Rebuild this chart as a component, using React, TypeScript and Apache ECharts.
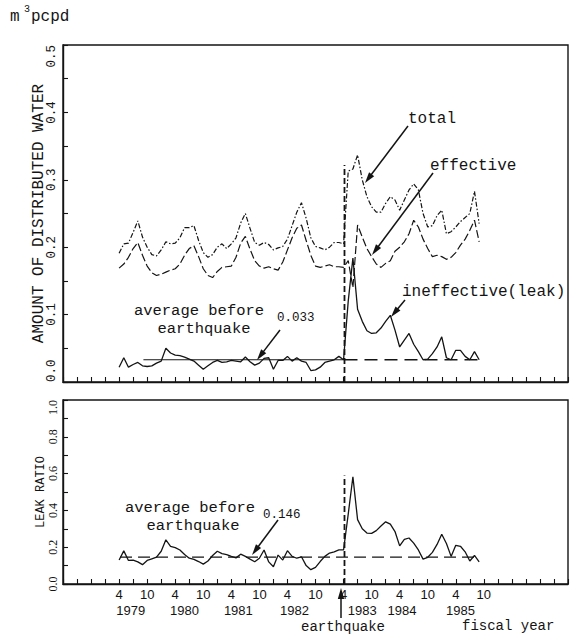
import React, { useEffect, useRef } from "react";
import * as echarts from "echarts";

// x axis unit: months counted from April 1978 (axis origin); data start April 1979
const START_MONTH = 12;

// monthly values, April 1979 .. September 1985 (m3 pcpd)
const total = [
  0.191, 0.205, 0.206, 0.222, 0.239, 0.215, 0.2, 0.189, 0.187, 0.196,
  0.208, 0.205, 0.206, 0.214, 0.229, 0.229, 0.232, 0.21, 0.192, 0.185,
  0.189, 0.2, 0.205, 0.198, 0.205, 0.214, 0.236, 0.25, 0.228, 0.207,
  0.203, 0.207, 0.204, 0.196, 0.199, 0.201, 0.212, 0.232, 0.252, 0.266,
  0.243, 0.214, 0.201, 0.199, 0.196, 0.2, 0.207, 0.207, 0.205, 0.313,
  0.316, 0.337, 0.3, 0.275, 0.26, 0.252, 0.252, 0.265, 0.275, 0.27,
  0.255, 0.27, 0.285, 0.294, 0.285, 0.25, 0.23, 0.232, 0.247, 0.255,
  0.22, 0.223, 0.23, 0.238, 0.244, 0.25, 0.283, 0.235,
];
const effective = [
  0.169, 0.175, 0.185, 0.198, 0.207, 0.188, 0.172, 0.162, 0.158, 0.16,
  0.163, 0.166, 0.168, 0.175, 0.188, 0.198, 0.202, 0.186, 0.168, 0.158,
  0.155, 0.164, 0.17, 0.171, 0.172, 0.185, 0.206, 0.216, 0.197, 0.18,
  0.172, 0.169, 0.171, 0.168, 0.166, 0.178, 0.196, 0.214, 0.228, 0.233,
  0.21, 0.188, 0.172, 0.17, 0.172, 0.174, 0.171, 0.171, 0.17, 0.18,
  0.14, 0.233, 0.215, 0.198, 0.186, 0.175, 0.17, 0.176, 0.18, 0.194,
  0.2, 0.208, 0.22, 0.24, 0.23, 0.212, 0.198, 0.186, 0.188, 0.186,
  0.182, 0.185, 0.192, 0.203, 0.212, 0.225, 0.24, 0.208,
];
const leak = [
  0.022, 0.036, 0.022, 0.026, 0.029, 0.024, 0.023, 0.024, 0.028, 0.031,
  0.05, 0.043, 0.04, 0.039, 0.037, 0.034, 0.031, 0.025, 0.019, 0.024,
  0.029, 0.032, 0.029, 0.03, 0.032, 0.031, 0.03, 0.037, 0.03, 0.025,
  0.028, 0.035, 0.036, 0.019, 0.032, 0.032, 0.038, 0.031, 0.036, 0.031,
  0.029, 0.017, 0.018, 0.022, 0.029, 0.031, 0.033, 0.038, 0.033, 0.12,
  0.184, 0.108, 0.09, 0.076, 0.072, 0.073, 0.08, 0.09, 0.099, 0.077,
  0.052, 0.062, 0.072, 0.056, 0.045, 0.033, 0.034, 0.042, 0.052, 0.067,
  0.036, 0.033, 0.047, 0.047, 0.038, 0.033, 0.045, 0.033,
];
const leakRatio = [
  0.13, 0.18, 0.128, 0.13, 0.12, 0.105, 0.128, 0.137, 0.146, 0.178,
  0.24, 0.205, 0.198, 0.185, 0.16, 0.14, 0.134, 0.122, 0.108, 0.125,
  0.155, 0.178, 0.165, 0.16, 0.15, 0.142, 0.162, 0.15, 0.135, 0.121,
  0.14, 0.185, 0.12, 0.094, 0.157, 0.13, 0.181, 0.15, 0.14, 0.148,
  0.1, 0.078, 0.09, 0.122, 0.15, 0.168, 0.175, 0.185, 0.185, 0.38,
  0.583, 0.35, 0.3, 0.277, 0.275, 0.29, 0.315, 0.338, 0.325, 0.285,
  0.207, 0.242, 0.25, 0.222, 0.185, 0.135, 0.145, 0.172, 0.215, 0.27,
  0.22, 0.15, 0.21, 0.205, 0.175, 0.125, 0.155, 0.12,
];

const AVG_LEAK = 0.033;
const AVG_RATIO = 0.146;
const QUAKE_X = 60.2; // late May 1983
const QUAKE_TOP_AMOUNT = 0.322;
const QUAKE_TOP_RATIO = 0.59;
const AVG_LEAK_START = 17.2;
const AVG_RATIO_START = 12.2;
const AVG_END = 88.8;

const yearLabels = ["1979", "1980", "1981", "1982", "1983", "1984", "1985"];
const yearLabelPos = [14.5, 26, 37.5, 49.5, 64, 72.5, 85];

const INK = "#141414";
const MONO = '"Liberation Mono", "DejaVu Sans Mono", monospace';
const SANS = '"Liberation Sans", Arial, sans-serif';
const SERIF = '"Liberation Serif", "DejaVu Serif", serif';

function monthLabel(v: number): string {
  if (v < 12 || v > 90) return "";
  if (v % 12 === 0) return "4";
  if (v % 12 === 6) return "10";
  return "";
}

function arrow(x1: number, y1: number, x2: number, y2: number) {
  const dx = x2 - x1, dy = y2 - y1;
  const len = Math.hypot(dx, dy);
  const ux = dx / len, uy = dy / len;
  const L = 11, W = 3.2;
  const bx = x2 - ux * L, by = y2 - uy * L;
  return [
    { type: "line", shape: { x1, y1, x2: bx + ux * 2, y2: by + uy * 2 }, style: { stroke: INK, lineWidth: 1.5 } },
    {
      type: "polygon",
      shape: { points: [[x2, y2], [bx - uy * W, by + ux * W], [bx + uy * W, by - ux * W]] },
      style: { fill: INK },
    },
  ];
}

function txt(x: number, y: number, text: string, fontSize: number, align = "left", font = MONO) {
  return {
    type: "text",
    x,
    y,
    style: { text, fontSize, fontFamily: font, fill: INK, align, verticalAlign: "middle" },
  };
}

const pairs = (arr: number[]) => arr.map((v, i) => [START_MONTH + i, v]);

export default function App() {
  const ref = useRef<HTMLDivElement>(null);
  useEffect(() => {
    if (!ref.current) return;
    const chart = echarts.init(ref.current, null, { renderer: "svg" });
    const axisLine = { show: true, lineStyle: { color: INK, width: 1.4 } };
    const xCommon = {
      type: "value",
      min: 0,
      max: 108,
      interval: 3,
      axisLine,
      axisTick: { show: true, inside: true, length: 5, lineStyle: { color: INK, width: 1.1 } },
      splitLine: { show: false },
    };
    const lineBase = { type: "line", symbol: "none", showSymbol: false, silent: true };
    chart.setOption({
      animation: false,
      backgroundColor: "#ffffff",
      grid: [
        { left: 63, right: 6, top: 45, height: 337, show: true, borderColor: INK, borderWidth: 1.4, backgroundColor: "transparent" },
        { left: 63, right: 6, top: 400, height: 184, show: true, borderColor: INK, borderWidth: 1.4, backgroundColor: "transparent" },
      ],
      xAxis: [
        { ...xCommon, gridIndex: 0, axisLabel: { show: false } },
        {
          ...xCommon,
          gridIndex: 1,
          axisLabel: { show: true, margin: 4, color: INK, fontSize: 13, fontFamily: SANS, formatter: (v: number) => monthLabel(v) },
        },
        {
          type: "value",
          gridIndex: 1,
          position: "bottom",
          offset: 16,
          min: 0,
          max: 108,
          axisLine: { show: false },
          axisTick: { show: false },
          splitLine: { show: false },
          axisLabel: {
            show: true,
            margin: 4,
            color: INK,
            fontSize: 13,
            fontFamily: SANS,
            customValues: yearLabelPos,
            formatter: (v: number) => {
              const i = yearLabelPos.indexOf(v);
              return i >= 0 ? yearLabels[i] : "";
            },
          },
        },
      ],
      yAxis: [
        {
          type: "value",
          gridIndex: 0,
          min: 0,
          max: 0.5,
          interval: 0.05,
          axisLine,
          axisTick: { show: true, inside: true, length: 5, lineStyle: { color: INK, width: 1.1 } },
          splitLine: { show: false },
          axisLabel: {
            rotate: 90,
            margin: 5,
            color: INK,
            fontSize: 12.5,
            fontFamily: MONO,
            alignMinLabel: "left",
            alignMaxLabel: "right",
            formatter: (v: number) => (Math.abs(v * 10 - Math.round(v * 10)) < 1e-6 ? v.toFixed(1) : ""),
          },
          name: "AMOUNT OF DISTRIBUTED WATER",
          nameLocation: "middle",
          nameRotate: 90,
          nameGap: 16,
          nameMoveOverlap: false,
          nameTextStyle: { color: INK, fontSize: 16, fontFamily: MONO },
        },
        {
          type: "value",
          gridIndex: 1,
          min: 0,
          max: 1,
          interval: 0.1,
          axisLine,
          axisTick: { show: true, inside: true, length: 5, lineStyle: { color: INK, width: 1.1 } },
          splitLine: { show: false },
          axisLabel: {
            rotate: 90,
            margin: 4,
            color: INK,
            fontSize: 12,
            fontFamily: SERIF,
            alignMaxLabel: "right",
            formatter: (v: number) => (Math.abs(v * 5 - Math.round(v * 5)) < 1e-6 ? v.toFixed(1) : ""),
          },
          name: "LEAK RATIO",
          nameLocation: "middle",
          nameRotate: 90,
          nameGap: 16,
          nameMoveOverlap: false,
          nameTextStyle: { color: INK, fontSize: 12, fontFamily: MONO },
        },
      ],
      series: [
        { ...lineBase, name: "total", xAxisIndex: 0, yAxisIndex: 0, data: pairs(total), lineStyle: { color: INK, width: 1.2, type: [5, 2, 1.5, 2] } },
        { ...lineBase, name: "effective", xAxisIndex: 0, yAxisIndex: 0, data: pairs(effective), lineStyle: { color: INK, width: 1.2, type: [8, 3] } },
        { ...lineBase, name: "ineffective(leak)", xAxisIndex: 0, yAxisIndex: 0, data: pairs(leak), lineStyle: { color: INK, width: 1.3, type: "solid" } },
        { ...lineBase, name: "avg leak before", xAxisIndex: 0, yAxisIndex: 0, data: [[AVG_LEAK_START, AVG_LEAK], [QUAKE_X, AVG_LEAK]], lineStyle: { color: INK, width: 1.1, type: "solid" } },
        { ...lineBase, name: "avg leak after", xAxisIndex: 0, yAxisIndex: 0, data: [[QUAKE_X, AVG_LEAK], [AVG_END, AVG_LEAK]], lineStyle: { color: INK, width: 1.5, type: [13, 7] } },
        { ...lineBase, name: "quake top", xAxisIndex: 0, yAxisIndex: 0, data: [[QUAKE_X, 0], [QUAKE_X, QUAKE_TOP_AMOUNT]], lineStyle: { color: INK, width: 1.8, type: [6, 3] } },
        { ...lineBase, name: "leak ratio", xAxisIndex: 1, yAxisIndex: 1, data: pairs(leakRatio), lineStyle: { color: INK, width: 1.3, type: "solid" } },
        { ...lineBase, name: "avg ratio", xAxisIndex: 1, yAxisIndex: 1, data: [[AVG_RATIO_START, AVG_RATIO], [AVG_END, AVG_RATIO]], lineStyle: { color: INK, width: 1.4, type: [12, 6] } },
        { ...lineBase, name: "quake bottom", xAxisIndex: 1, yAxisIndex: 1, data: [[QUAKE_X, 0], [QUAKE_X, QUAKE_TOP_RATIO]], lineStyle: { color: INK, width: 1.8, type: [6, 3] } },
      ],
      graphic: [
        txt(10, 17, "m", 16),
        txt(24, 9, "3", 10),
        txt(31, 17, "pcpd", 16),
        txt(408, 119, "total", 16),
        ...arrow(408, 126, 365, 183),
        txt(430, 166, "effective", 16),
        ...arrow(433, 173, 372, 255),
        txt(402, 292, "ineffective(leak)", 16),
        ...arrow(405, 300, 391, 317),
        txt(199, 311, "average before", 15.5, "center"),
        txt(204, 329, "earthquake", 15.5, "center"),
        txt(277, 318, "0.033", 12.5),
        ...arrow(280, 330, 257, 360),
        txt(190, 508, "average before", 15.5, "center"),
        txt(193, 526, "earthquake", 15.5, "center"),
        txt(263, 515, "0.146", 12.5),
        ...arrow(278, 520, 252, 555),
        ...arrow(341, 618, 341, 588),
        txt(343, 627, "earthquake", 14, "center"),
        txt(462, 626, "fiscal year", 14),
      ],
    });
    return () => chart.dispose();
  }, []);
  return (
    <div
      ref={ref}
      style={{ position: "absolute", left: 0, top: 0, width: 574, height: 634, background: "#fff" }}
    />
  );
}
